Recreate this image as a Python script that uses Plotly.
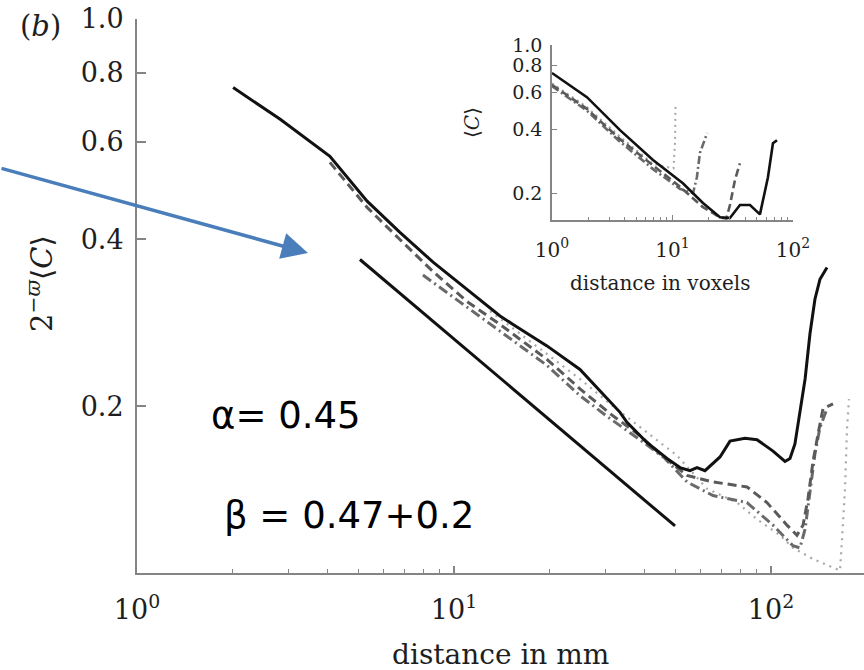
import plotly.graph_objects as go

# ---- main panel: correlation vs distance (mm) ----
solid_mm_x = [2.01, 2.83, 4.06, 5.32, 6.75, 8.59, 10.99, 13.97, 15.36, 19.65, 24.97, 27.85,
              30.38, 33.40, 35.13, 40.62, 46.97, 51.63, 55.52, 58.42, 61.91, 65.14, 69.05,
              74.25, 82.79, 90.33, 101.5, 110.7, 114.8, 119.0, 123.4, 128.1, 132.7, 137.6,
              142.7, 150.2]
solid_mm_y = [0.752, 0.659, 0.565, 0.469, 0.412, 0.364, 0.325, 0.291, 0.281, 0.257, 0.233, 0.218,
              0.206, 0.195, 0.187, 0.172, 0.161, 0.155, 0.153, 0.155, 0.153, 0.157, 0.162,
              0.173, 0.175, 0.174, 0.166, 0.159, 0.161, 0.171, 0.195, 0.224, 0.270, 0.312,
              0.339, 0.356]

dash_mm_x = [4.06, 5.32, 6.75, 8.59, 10.99, 13.97, 19.65, 24.97, 31.05, 38.62, 44.66, 54.33,
             65.6, 84.0, 97.1, 112.3, 120.8, 126.2, 130.8, 135.7, 140.7, 145.9, 156.9]
dash_mm_y = [0.551, 0.457, 0.400, 0.350, 0.309, 0.281, 0.243, 0.215, 0.194, 0.177, 0.164, 0.150,
             0.146, 0.143, 0.134, 0.122, 0.117, 0.122, 0.136, 0.159, 0.178, 0.198, 0.202]

dashdot_mm_x = [7.98, 10.99, 13.97, 19.65, 24.97, 31.05, 38.62, 46.3, 54.33, 65.6, 84.0, 101.5,
                117.3, 123.4, 128.1, 132.7, 137.6, 142.7, 150.2]
dashdot_mm_y = [0.345, 0.302, 0.273, 0.237, 0.209, 0.190, 0.174, 0.161, 0.146, 0.138, 0.134, 0.122,
                0.112, 0.111, 0.120, 0.139, 0.164, 0.183, 0.198]

dot_mm_x = [12.99, 19.65, 24.97, 31.05, 38.62, 44.66, 50.5, 62.8, 78.1, 90.33, 106.8, 117.3,
            135.7, 153.5, 165.1, 167.5, 171.2, 173.7, 176.2]
dot_mm_y = [0.297, 0.248, 0.224, 0.202, 0.183, 0.172, 0.163, 0.142, 0.134, 0.125, 0.117, 0.111,
            0.106, 0.103, 0.101, 0.115, 0.142, 0.182, 0.206]

# power-law guide line
guide_x = [5.05, 49.8]
guide_y = [0.368, 0.1216]

# ---- inset: correlation vs distance (voxels) ----
in_solid_x = [1.0, 1.95, 3.67, 6.89, 12.2, 17.9, 24.8, 30.0, 36.3, 44.0, 53.2, 62.0, 68.2, 73.7]
in_solid_y = [0.738, 0.568, 0.397, 0.287, 0.223, 0.180, 0.154, 0.153, 0.176, 0.176, 0.159, 0.238,
              0.344, 0.356]
in_dash_x = [1.0, 1.95, 3.67, 6.9, 11.5, 17.9, 24.8, 28.0, 30.0, 33.0, 36.3]
in_dash_y = [0.65, 0.50, 0.36, 0.27, 0.215, 0.172, 0.154, 0.152, 0.176, 0.231, 0.277]
in_dashdot_x = [1.0, 1.95, 3.67, 6.9, 11.5, 14.8, 15.95, 16.9, 19.4]
in_dashdot_y = [0.64, 0.49, 0.35, 0.26, 0.21, 0.20, 0.238, 0.31, 0.385]
in_dot_x = [1.0, 1.95, 3.67, 6.9, 10.2, 10.5, 10.6]
in_dot_y = [0.66, 0.51, 0.37, 0.275, 0.262, 0.35, 0.53]

# tick labels
main_y_ticks = [0.2, 0.4, 0.6, 0.8, 1.0]
main_y_text = ["0.2", "0.4", "0.6", "0.8", "1.0"]
decade_ticks = [1, 10, 100]
decade_text = ["10<sup>0</sup>", "10<sup>1</sup>", "10<sup>2</sup>"]
minor_main = [2, 3, 4, 5, 6, 7, 8, 9, 20, 30, 40, 50, 60, 70, 80, 90, 200]
minor_inset = [2, 3, 4, 5, 6, 7, 8, 9, 20, 30, 40, 50, 60, 70, 80, 90]

SERIF = "DejaVu Serif"
AXIS_GRAY = "#858585"
INK = "#1e1e1e"

fig = go.Figure()


def add_line(x, y, color, width, dash, xa="x", ya="y"):
    fig.add_trace(go.Scatter(x=x, y=y, mode="lines", xaxis=xa, yaxis=ya,
                             line=dict(color=color, width=width, dash=dash),
                             showlegend=False, hoverinfo="skip"))


# main panel curves
add_line(dot_mm_x, dot_mm_y, "#a8a8a8", 2.2, "2px,5px")
add_line(dashdot_mm_x, dashdot_mm_y, "#6a6a6a", 3, "10px,4px,2px,4px")
add_line(dash_mm_x, dash_mm_y, "#5a5a5a", 3, "9px,5px")
add_line(solid_mm_x, solid_mm_y, "#111111", 3, "solid")
add_line(guide_x, guide_y, "#111111", 3, "solid")

# inset curves
add_line(in_dot_x, in_dot_y, "#a8a8a8", 2, "2px,4px", "x2", "y2")
add_line(in_dashdot_x, in_dashdot_y, "#6a6a6a", 2.6, "8px,3px,2px,3px", "x2", "y2")
add_line(in_dash_x, in_dash_y, "#5a5a5a", 2.6, "8px,4px", "x2", "y2")
add_line(in_solid_x, in_solid_y, "#111111", 2.6, "solid", "x2", "y2")

axis_common = dict(showgrid=False, zeroline=False, showline=True, linecolor=AXIS_GRAY,
                   ticks="inside", tickcolor=AXIS_GRAY, mirror=False, automargin=False)

fig.update_layout(
    template="none",
    width=864, height=670,
    margin=dict(l=137, r=0, t=19, b=97, pad=0),
    paper_bgcolor="white", plot_bgcolor="white",
    xaxis=dict(type="log", range=[0, 2.2934], domain=[0, 1], anchor="y",
               linewidth=2, tickwidth=1.5, ticklen=7,
               tickvals=decade_ticks, ticktext=decade_text,
               tickfont=dict(family=SERIF, size=27, color=INK),
               ticklabelstandoff=12,
               minor=dict(ticks="inside", ticklen=4, tickwidth=1.2, tickcolor=AXIS_GRAY,
                          tickvals=minor_main, showgrid=False),
               **axis_common),
    yaxis=dict(type="log", range=[-1, 0], domain=[0, 1], anchor="x",
               linewidth=2, tickwidth=1.5, ticklen=9,
               tickvals=main_y_ticks, ticktext=main_y_text,
               tickfont=dict(family=SERIF, size=27, color=INK),
               ticklabelstandoff=6,
               **axis_common),
    xaxis2=dict(type="log", range=[0, 2], domain=[0.5708, 0.9023], anchor="y2",
                linewidth=1.5, tickwidth=1.2, ticklen=5,
                tickvals=decade_ticks, ticktext=decade_text,
                tickfont=dict(family=SERIF, size=20, color=INK),
                ticklabelstandoff=11,
                minor=dict(ticks="inside", ticklen=3, tickwidth=1, tickcolor=AXIS_GRAY,
                           tickvals=minor_inset, showgrid=False),
                **axis_common),
    yaxis2=dict(type="log", range=[-0.8255, 0], domain=[0.637, 0.953], anchor="x2",
                linewidth=1.5, tickwidth=1.2, ticklen=5,
                tickvals=main_y_ticks, ticktext=main_y_text,
                tickfont=dict(family=SERIF, size=19, color=INK),
                ticklabelstandoff=4,
                **axis_common),
)


def label(text, x, y, size, family=SERIF, angle=0, color=INK):
    return dict(text=text, x=x, y=y, xref="paper", yref="paper", xanchor="center",
                yanchor="middle", textangle=angle, showarrow=False,
                font=dict(family=family, size=size, color=color))


annotations = [
    # panel tag
    label("(<i>b</i>)", -0.1334, 0.987, 29),
    # main axis titles
    label("2<sup>\u2212<i>\u03d6</i></sup>\u27e8<i>C</i>\u27e9", -0.1334, 0.5217, 29, angle=-90),
    label("distance in mm", 0.5, -0.148, 28),
    # inset axis titles
    label("\u27e8<i>C</i>\u27e9", 0.4608, 0.8123, 20, angle=-90),
    label("distance in voxels", 0.7194, 0.5235, 20),
    # exponents
    label("\u03b1= 0.45", 0.205, 0.2834, 37, family="DejaVu Sans", color="black"),
    label("\u03b2 = 0.47+0.2", 0.291, 0.1029, 37, family="DejaVu Sans", color="black"),
    # pointer arrow
    dict(text="", x=0.2352, y=0.5776, xref="paper", yref="paper",
         ax=-308, ay=-85, showarrow=True, arrowhead=2, arrowsize=1.5,
         arrowwidth=3.5, arrowcolor="#4a7ebb"),
]
fig.update_layout(annotations=annotations)

fig.write_html("out.html")
